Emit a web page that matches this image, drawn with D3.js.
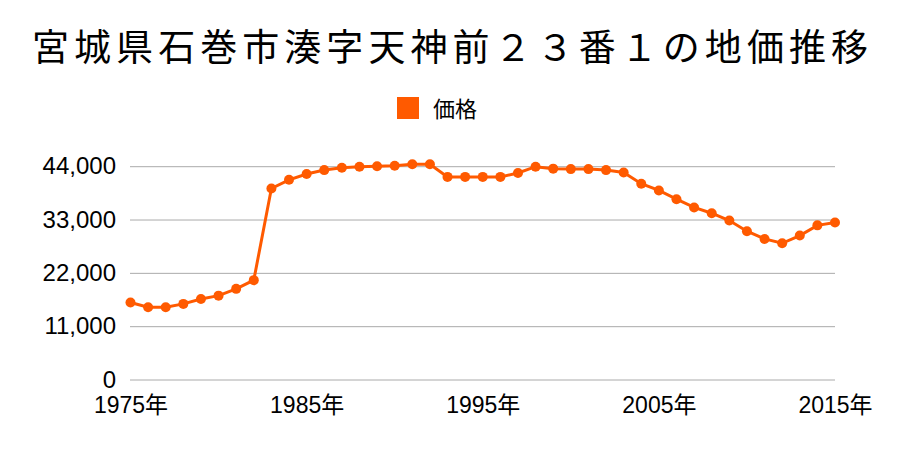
<!DOCTYPE html>
<html><head><meta charset="utf-8">
<script src="https://cdn.jsdelivr.net/npm/d3@7"></script>
<style>body{margin:0;background:#fff;}svg{display:block;font-family:"Noto Sans CJK JP","Noto Sans",sans-serif;}</style>
</head><body>
<svg id="c" width="900" height="450"></svg>
<script>
const titleText = "宮城県石巻市湊字天神前２３番１の地価推移";
const seriesName = "価格";
const years = d3.range(1975, 2016);
const prices = [16000,15000,15000,15700,16700,17400,18800,20600,39500,41300,
  42500,43300,43800,44000,44100,44200,44500,44500,41900,41900,
  41900,41900,42700,44000,43600,43500,43500,43300,42800,40500,
  39100,37300,35600,34400,32900,30700,29100,28200,29800,31900,32500];
const yTicks = [0,11000,22000,33000,44000];
const xTicks = [1975,1985,1995,2005,2015];
const color = "#ff5a00";

const svg = d3.select("#c");
const x = d3.scaleLinear().domain([1975,2015]).range([130.5,835]);
const y = d3.scaleLinear().domain([0,44000]).range([380,166.7]);

svg.append("text").attr("x",450).attr("y",61).attr("text-anchor","middle")
  .attr("font-size",37).attr("fill","#000")
  .attr("textLength",836).attr("lengthAdjust","spacing").text(titleText);

svg.append("rect").attr("x",397).attr("y",97).attr("width",22).attr("height",22).attr("fill",color);
svg.append("text").attr("x",433).attr("y",117).attr("font-size",22).attr("fill","#000").text(seriesName);

const grid = svg.append("g");
grid.selectAll("line").data(yTicks).join("line")
  .attr("x1",130).attr("x2",835).attr("y1",d=>y(d)).attr("y2",d=>y(d))
  .attr("stroke","#aaa").attr("stroke-width",1);

const labelFont = '"Liberation Sans","Noto Sans CJK JP",sans-serif';
const yAxis = svg.append("g").attr("transform","translate(116,0)")
  .call(d3.axisLeft(y).tickValues(yTicks).tickSize(0).tickPadding(0).tickFormat(d3.format(",")));
yAxis.select(".domain").remove();
yAxis.selectAll("text").attr("font-size",24).attr("fill","#000").attr("dy","0.3em")
  .attr("font-family",labelFont);

const xAxis = svg.append("g").attr("transform","translate(0,380)")
  .call(d3.axisBottom(x).tickValues(xTicks).tickSize(0).tickPadding(0).tickFormat(d=>d+"年"));
xAxis.select(".domain").remove();
xAxis.selectAll("text").attr("font-size",23).attr("fill","#000").attr("dy","0")
  .attr("y",33).attr("font-family",labelFont);

const line = d3.line().x((d,i)=>x(years[i])).y(d=>y(d));
svg.append("path").datum(prices).attr("d",line).attr("fill","none")
  .attr("stroke",color).attr("stroke-width",3);
svg.append("g").selectAll("circle").data(prices).join("circle")
  .attr("cx",(d,i)=>x(years[i])).attr("cy",d=>y(d)).attr("r",5).attr("fill",color);
</script>
</body></html>
